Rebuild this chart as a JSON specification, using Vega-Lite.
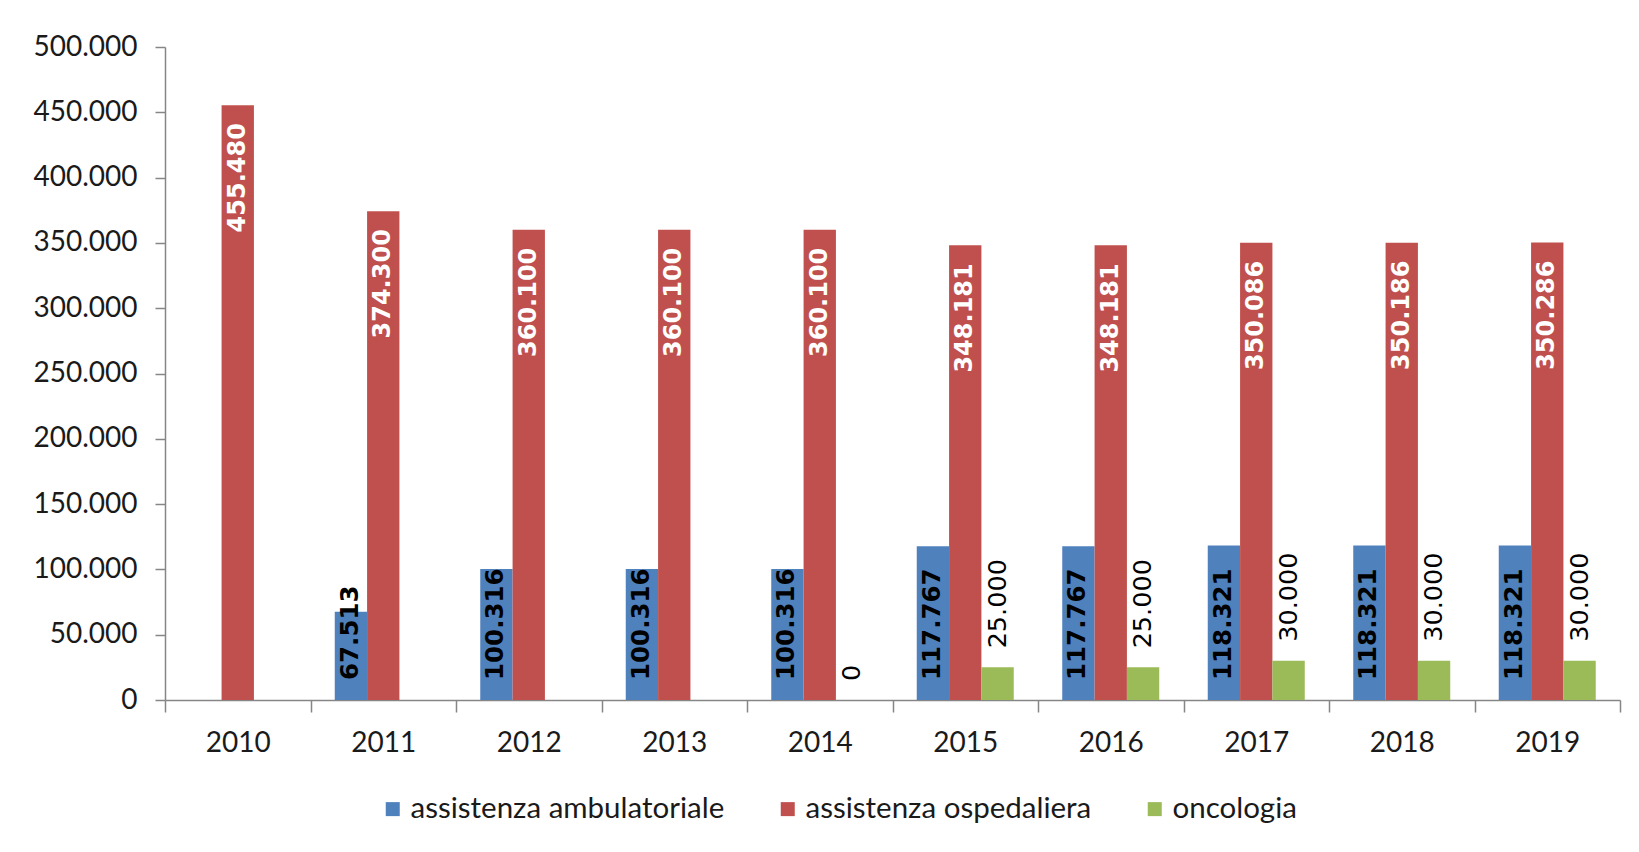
{
  "$schema": "https://vega.github.io/schema/vega-lite/v6.json",
  "width": 1455,
  "height": 653,
  "autosize": {"type": "none"},
  "padding": {"left": 165, "top": 47, "right": 19, "bottom": 152},
  "background": "white",
  "config": {
    "view": {"stroke": null},
    "locale": {"number": {"decimal": ",", "thousands": ".", "grouping": [3], "currency": ["", " €"]}},
    "axis": {
      "domainColor": "#868686",
      "tickColor": "#868686",
      "domainWidth": 1.5,
      "tickWidth": 1.5,
      "labelFont": "Lato",
      "labelFontSize": 28,
      "labelColor": "#1a1a1a",
      "grid": false,
      "title": null
    }
  },
  "data": {
    "values": [
      {"year": "2010", "series": "assistenza ospedaliera", "value": 455480},
      {"year": "2011", "series": "assistenza ambulatoriale", "value": 67513},
      {"year": "2011", "series": "assistenza ospedaliera", "value": 374300},
      {"year": "2012", "series": "assistenza ambulatoriale", "value": 100316},
      {"year": "2012", "series": "assistenza ospedaliera", "value": 360100},
      {"year": "2013", "series": "assistenza ambulatoriale", "value": 100316},
      {"year": "2013", "series": "assistenza ospedaliera", "value": 360100},
      {"year": "2014", "series": "assistenza ambulatoriale", "value": 100316},
      {"year": "2014", "series": "assistenza ospedaliera", "value": 360100},
      {"year": "2014", "series": "oncologia", "value": 0},
      {"year": "2015", "series": "assistenza ambulatoriale", "value": 117767},
      {"year": "2015", "series": "assistenza ospedaliera", "value": 348181},
      {"year": "2015", "series": "oncologia", "value": 25000},
      {"year": "2016", "series": "assistenza ambulatoriale", "value": 117767},
      {"year": "2016", "series": "assistenza ospedaliera", "value": 348181},
      {"year": "2016", "series": "oncologia", "value": 25000},
      {"year": "2017", "series": "assistenza ambulatoriale", "value": 118321},
      {"year": "2017", "series": "assistenza ospedaliera", "value": 350086},
      {"year": "2017", "series": "oncologia", "value": 30000},
      {"year": "2018", "series": "assistenza ambulatoriale", "value": 118321},
      {"year": "2018", "series": "assistenza ospedaliera", "value": 350186},
      {"year": "2018", "series": "oncologia", "value": 30000},
      {"year": "2019", "series": "assistenza ambulatoriale", "value": 118321},
      {"year": "2019", "series": "assistenza ospedaliera", "value": 350286},
      {"year": "2019", "series": "oncologia", "value": 30000}
    ]
  },
  "encoding": {
    "x": {
      "field": "year",
      "type": "nominal",
      "sort": null,
      "scale": {"paddingInner": 0, "paddingOuter": 0},
      "axis": {"labelAngle": 0, "tickBand": "extent", "tickSize": 12, "labelPadding": 17}
    },
    "xOffset": {
      "field": "series",
      "type": "nominal",
      "scale": {"domain": ["assistenza ambulatoriale", "assistenza ospedaliera", "oncologia"], "paddingInner": 0, "paddingOuter": 0.75}
    }
  },
  "layer": [
    {
      "mark": {"type": "bar"},
      "encoding": {
        "y": {
          "field": "value",
          "type": "quantitative",
          "scale": {"domain": [0, 500000], "nice": false},
          "axis": {"values": [0, 50000, 100000, 150000, 200000, 250000, 300000, 350000, 400000, 450000, 500000], "format": ",d", "tickSize": 10, "labelPadding": 18}
        },
        "color": {
          "field": "series",
          "type": "nominal",
          "scale": {"domain": ["assistenza ambulatoriale", "assistenza ospedaliera", "oncologia"], "range": ["#4F81BD", "#C0504D", "#9BBB59"]},
          "legend": {
            "title": null,
            "orient": "none",
            "direction": "horizontal",
            "legendX": 213,
            "legendY": 747,
            "symbolType": "square",
            "symbolSize": 196,
            "symbolStrokeWidth": 0,
            "labelFont": "Lato",
            "labelFontSize": 29.5,
            "labelColor": "#1a1a1a",
            "labelLimit": 0,
            "labelOffset": 3,
            "columnPadding": 48
          }
        }
      }
    },
    {
      "transform": [{"filter": "datum.series === 'assistenza ospedaliera'"}],
      "mark": {"type": "text", "angle": 270, "align": "right", "baseline": "middle", "dx": -18, "font": "DejaVu Sans", "fontWeight": "bold", "fontSize": 24, "color": "white"},
      "encoding": {
        "y": {"field": "value", "type": "quantitative"},
        "text": {"field": "value", "type": "quantitative", "format": ",d"}
      }
    },
    {
      "transform": [{"filter": "datum.series === 'assistenza ambulatoriale'"}],
      "mark": {"type": "text", "angle": 270, "align": "left", "baseline": "middle", "dx": 20, "font": "DejaVu Sans", "fontWeight": "bold", "fontSize": 24.5, "color": "black"},
      "encoding": {
        "y": {"datum": 0, "type": "quantitative"},
        "text": {"field": "value", "type": "quantitative", "format": ",d"}
      }
    },
    {
      "transform": [{"filter": "datum.series === 'oncologia'"}],
      "mark": {"type": "text", "angle": 270, "align": "left", "baseline": "middle", "dx": 19, "font": "DejaVu Sans", "fontSize": 25.5, "color": "black"},
      "encoding": {
        "y": {"field": "value", "type": "quantitative"},
        "text": {"field": "value", "type": "quantitative", "format": ",d"}
      }
    }
  ]
}
